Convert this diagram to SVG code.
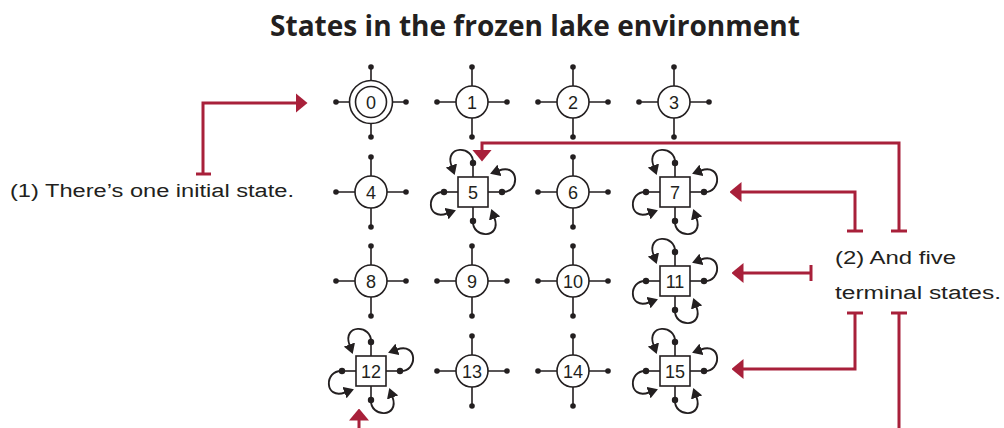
<svg xmlns="http://www.w3.org/2000/svg" width="1004" height="428" viewBox="0 0 1004 428">
<style>
.title{font-family:"Open Sans","Liberation Sans",sans-serif;font-weight:700;font-size:28px;fill:#231f20}
.note{font-family:"Liberation Sans","DejaVu Sans",sans-serif;font-size:18px;fill:#231f20}
.lbl{font-family:"Liberation Sans",Arial,sans-serif;font-size:18px;fill:#231f20;text-anchor:middle}
.blk{stroke:#231f20;stroke-width:1.6;fill:none}
.lp{stroke:#231f20;stroke-width:1.9;fill:none}
.shape{stroke:#231f20;stroke-width:1.6;fill:#fff}
.dot{fill:#231f20}
.red{stroke:#a8203a;stroke-width:3;fill:none}
</style>
<defs>
<marker id="blackArrow" markerUnits="userSpaceOnUse" markerWidth="10" markerHeight="12" viewBox="0 -6 10 12" refX="0.5" refY="0" orient="auto">
<path d="M0,-6 L10,0 L0,6 z" fill="#231f20"/>
</marker>
<marker id="redArrow" markerUnits="userSpaceOnUse" markerWidth="12" markerHeight="20" viewBox="0 -10 12 20" refX="0.5" refY="0" orient="auto">
<path d="M0,-10 L12,0 L0,10 z" fill="#a8203a"/>
</marker>
<g id="spokes">
<path class="blk" d="M-35,0 H35 M0,-35 V35"/>
<circle class="dot" cx="-35" cy="0" r="2.8"/>
<circle class="dot" cx="35" cy="0" r="2.8"/>
<circle class="dot" cx="0" cy="-35" r="2.8"/>
<circle class="dot" cx="0" cy="35" r="2.8"/>
</g>
<g id="loop">
<path class="blk" d="M0,-15 V-29"/>
<path class="lp" d="M0,-29 C1,-47 -29,-47 -21.5,-26" marker-end="url(#blackArrow)"/>
<circle class="dot" cx="0" cy="-29" r="3.2"/>
</g>
<g id="term">
<use href="#loop"/>
<use href="#loop" transform="rotate(-90)"/>
<use href="#loop" transform="rotate(-180)"/>
<use href="#loop" transform="rotate(-270)"/>
<rect class="shape" x="-15" y="-15" width="30" height="30"/>
</g>
<g id="circ">
<use href="#spokes"/>
<circle class="shape" cx="0" cy="0" r="16"/>
</g>
</defs>

<text class="title" x="535" y="36" text-anchor="middle" textLength="530" lengthAdjust="spacingAndGlyphs">States in the frozen lake environment</text>

<g id="node-0" transform="translate(371,102)">
<use href="#spokes"/>
<circle class="shape" cx="0" cy="0" r="21.5"/>
<circle class="shape" cx="0" cy="0" r="15.5"/>
<text class="lbl" x="0" y="6.5">0</text>
</g>
<g id="node-1" transform="translate(472,102)"><use href="#circ"/><text class="lbl" x="0" y="6.5">1</text></g>
<g id="node-2" transform="translate(573,102)"><use href="#circ"/><text class="lbl" x="0" y="6.5">2</text></g>
<g id="node-3" transform="translate(674,102)"><use href="#circ"/><text class="lbl" x="0" y="6.5">3</text></g>

<g id="node-4" transform="translate(371,192)"><use href="#circ"/><text class="lbl" x="0" y="6.5">4</text></g>
<g id="node-5" transform="translate(473,192)"><use href="#term"/><text class="lbl" x="0" y="6.5">5</text></g>
<g id="node-6" transform="translate(573,192)"><use href="#circ"/><text class="lbl" x="0" y="6.5">6</text></g>
<g id="node-7" transform="translate(675,192)"><use href="#term"/><text class="lbl" x="0" y="6.5">7</text></g>

<g id="node-8" transform="translate(371,281)"><use href="#circ"/><text class="lbl" x="0" y="6.5">8</text></g>
<g id="node-9" transform="translate(472,281)"><use href="#circ"/><text class="lbl" x="0" y="6.5">9</text></g>
<g id="node-10" transform="translate(573,281)"><use href="#circ"/><text class="lbl" x="0" y="6.5">10</text></g>
<g id="node-11" transform="translate(675,281)"><use href="#term"/><text class="lbl" x="0" y="6.5">11</text></g>

<g id="node-12" transform="translate(371,371)"><use href="#term"/><text class="lbl" x="0" y="6.5">12</text></g>
<g id="node-13" transform="translate(472,371)"><use href="#circ"/><text class="lbl" x="0" y="6.5">13</text></g>
<g id="node-14" transform="translate(573,371)"><use href="#circ"/><text class="lbl" x="0" y="6.5">14</text></g>
<g id="node-15" transform="translate(675,371)"><use href="#term"/><text class="lbl" x="0" y="6.5">15</text></g>

<g id="connectors">
<path class="red" d="M203,174 V103 H296" marker-end="url(#redArrow)"/>
<path class="red" d="M196,174 H211"/>
<path class="red" d="M855,231 V192 H741" marker-end="url(#redArrow)"/>
<path class="red" d="M847,231 H863"/>
<path class="red" d="M899,231 V143 H482 V150" marker-end="url(#redArrow)"/>
<path class="red" d="M891,231 H907"/>
<path class="red" d="M811,273 H743" marker-end="url(#redArrow)"/>
<path class="red" d="M811,265 V281"/>
<path class="red" d="M855,313 V369 H743" marker-end="url(#redArrow)"/>
<path class="red" d="M847,313 H863"/>
<path class="red" d="M899,313 V445 H359 V420" marker-end="url(#redArrow)"/>
<path class="red" d="M891,313 H907"/>
</g>

<text class="note" x="10" y="197" textLength="284" lengthAdjust="spacingAndGlyphs">(1) There’s one initial state.</text>
<text class="note" x="835" y="264" textLength="121" lengthAdjust="spacingAndGlyphs">(2) And five</text>
<text class="note" x="835" y="299" textLength="166" lengthAdjust="spacingAndGlyphs">terminal states.</text>
</svg>
